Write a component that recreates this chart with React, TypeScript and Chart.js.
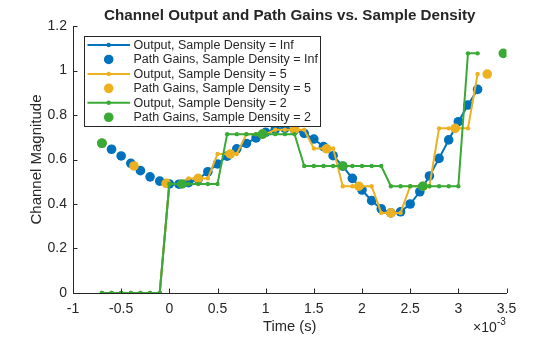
import React, { useEffect, useRef } from 'react';
import { Chart, registerables } from 'chart.js';

Chart.register(...registerables);

// ---------- data (time in ms, i.e. x10^-3 s) ----------
const sampleTimes = [
  -0.7, -0.6, -0.5, -0.4, -0.3, -0.2, -0.1, 0.0, 0.1, 0.2,
  0.3, 0.4, 0.5, 0.6, 0.7, 0.8, 0.9, 1.0, 1.1, 1.2,
  1.3, 1.4, 1.5, 1.6, 1.7, 1.8, 1.9, 2.0, 2.1, 2.2,
  2.3, 2.4, 2.5, 2.6, 2.7, 2.8, 2.9, 3.0, 3.1, 3.2,
];

const outputInf = [
  0, 0, 0, 0, 0, 0, 0, 0.49, 0.489, 0.496,
  0.512, 0.545, 0.58, 0.615, 0.648, 0.672, 0.697, 0.722, 0.736, 0.74,
  0.733, 0.717, 0.692, 0.658, 0.617, 0.57, 0.515, 0.463, 0.415, 0.378,
  0.36, 0.365, 0.4, 0.455, 0.526, 0.605, 0.688, 0.77, 0.845, 0.915,
];

const gainsInf = [
  0.673, 0.646, 0.616, 0.583, 0.55, 0.522, 0.503, 0.49, 0.489, 0.496,
  0.512, 0.545, 0.58, 0.615, 0.648, 0.672, 0.697, 0.722, 0.736, 0.74,
  0.733, 0.717, 0.692, 0.658, 0.617, 0.57, 0.515, 0.463, 0.415, 0.378,
  0.36, 0.365, 0.4, 0.455, 0.526, 0.605, 0.688, 0.77, 0.845, 0.915,
];

const output5 = [
  0, 0, 0, 0, 0, 0, 0, 0.49, 0.49, 0.515,
  0.515, 0.515, 0.625, 0.625, 0.625, 0.714, 0.714, 0.714, 0.734, 0.734,
  0.734, 0.734, 0.65, 0.65, 0.65, 0.48, 0.48, 0.48, 0.48, 0.36,
  0.36, 0.36, 0.48, 0.48, 0.48, 0.74, 0.74, 0.74, 0.74, 0.984,
];

const gains5Times = [-0.7, -0.367, -0.033, 0.3, 0.633, 0.967, 1.3, 1.633, 1.967, 2.3, 2.633, 2.967, 3.3];
const gains5 = [0.673, 0.571, 0.493, 0.515, 0.625, 0.714, 0.734, 0.648, 0.48, 0.36, 0.48, 0.74, 0.984];

const output2 = [
  0, 0, 0, 0, 0, 0, 0, 0.49, 0.49, 0.49,
  0.49, 0.49, 0.49, 0.714, 0.714, 0.714, 0.714, 0.714, 0.714, 0.714,
  0.714, 0.571, 0.571, 0.571, 0.571, 0.571, 0.571, 0.571, 0.571, 0.571,
  0.48, 0.48, 0.48, 0.48, 0.48, 0.48, 0.48, 0.48, 1.077, 1.077,
];

const gains2Times = [-0.7, 0.133, 0.967, 1.8, 2.633, 3.467];
const gains2 = [0.673, 0.49, 0.714, 0.571, 0.48, 1.077];

const seriesNames = [
  'Output, Sample Density = Inf',
  'Path Gains, Sample Density = Inf',
  'Output, Sample Density = 5',
  'Path Gains, Sample Density = 5',
  'Output, Sample Density = 2',
  'Path Gains, Sample Density = 2',
];

const xTickValues = [-1, -0.5, 0, 0.5, 1, 1.5, 2, 2.5, 3, 3.5];
const xTickLabels = ['-1', '-0.5', '0', '0.5', '1', '1.5', '2', '2.5', '3', '3.5'];
const yTickValues = [0, 0.2, 0.4, 0.6, 0.8, 1, 1.2];
const yTickLabels = ['0', '0.2', '0.4', '0.6', '0.8', '1', '1.2'];

const titleText = 'Channel Output and Path Gains vs. Sample Density';
const xLabelText = 'Time (s)';
const yLabelText = 'Channel Magnitude';

// ---------- styles ----------
const BLUE = 'rgb(0,114,189)';
const YELLOW = 'rgb(237,177,32)';
const GREEN = 'rgb(57,170,53)';
const AXIS = '#262626';
const FONT = '"Liberation Sans", Arial, Helvetica, sans-serif';

const pts = (xs: number[], ys: number[]) => xs.map((x, i) => ({ x, y: ys[i] }));

const lineDs = (label: string, data: any[], color: string) => ({
  label,
  data,
  showLine: true,
  borderColor: color,
  backgroundColor: color,
  borderWidth: 2,
  pointRadius: 2.2,
  pointBorderWidth: 0,
  pointBackgroundColor: color,
  tension: 0,
});

const dotDs = (label: string, data: any[], color: string) => ({
  label,
  data,
  showLine: false,
  borderColor: color,
  backgroundColor: color,
  pointRadius: 4.8,
  pointBorderWidth: 0,
  pointBackgroundColor: color,
});

const overlayPlugin = {
  id: 'overlay',
  afterDraw(chart: any) {
    const ctx: CanvasRenderingContext2D = chart.ctx;
    const xs = chart.scales.x;
    const ys = chart.scales.y;
    const { left, right, top, bottom } = chart.chartArea;
    ctx.save();

    // inward tick marks
    ctx.strokeStyle = AXIS;
    ctx.lineWidth = 1;
    xTickValues.forEach((v) => {
      const px = Math.round(xs.getPixelForValue(v)) + 0.5;
      ctx.beginPath();
      ctx.moveTo(px, bottom);
      ctx.lineTo(px, bottom - 4.5);
      ctx.stroke();
    });
    yTickValues.forEach((v) => {
      const py = Math.round(ys.getPixelForValue(v)) + 0.5;
      ctx.beginPath();
      ctx.moveTo(left, py);
      ctx.lineTo(left + 4.5, py);
      ctx.stroke();
    });

    // title
    ctx.fillStyle = AXIS;
    ctx.font = `bold 15.2px ${FONT}`;
    ctx.textAlign = 'center';
    ctx.textBaseline = 'alphabetic';
    ctx.fillText(titleText, (left + right) / 2, 20);

    // x label
    ctx.font = `14.7px ${FONT}`;
    ctx.fillText(xLabelText, (left + right) / 2, 331);

    // exponent label
    ctx.textAlign = 'left';
    ctx.font = `14px ${FONT}`;
    ctx.fillText('\u00d710', 473, 331.5);
    ctx.font = `10px ${FONT}`;
    ctx.fillText('-3', 497, 325);

    // y label
    ctx.save();
    ctx.translate(40.5, (top + bottom) / 2);
    ctx.rotate(-Math.PI / 2);
    ctx.textAlign = 'center';
    ctx.font = `15px ${FONT}`;
    ctx.fillText(yLabelText, 0, 0);
    ctx.restore();

    // legend
    const lx = 84.5, ly = 36.5, lw = 236, lh = 90;
    ctx.fillStyle = '#ffffff';
    ctx.fillRect(lx, ly, lw, lh);
    ctx.strokeStyle = AXIS;
    ctx.lineWidth = 1;
    ctx.strokeRect(lx, ly, lw, lh);
    const colors = [BLUE, BLUE, YELLOW, YELLOW, GREEN, GREEN];
    ctx.font = `12.5px ${FONT}`;
    ctx.textBaseline = 'middle';
    ctx.textAlign = 'left';
    seriesNames.forEach((name, i) => {
      const cy = 45 + i * 14.45;
      const c = colors[i];
      if (i % 2 === 0) {
        ctx.strokeStyle = c;
        ctx.lineWidth = 2;
        ctx.beginPath();
        ctx.moveTo(87.5, cy);
        ctx.lineTo(130, cy);
        ctx.stroke();
        ctx.fillStyle = c;
        ctx.beginPath();
        ctx.arc(108.7, cy, 2.2, 0, Math.PI * 2);
        ctx.fill();
      } else {
        ctx.fillStyle = c;
        ctx.beginPath();
        ctx.arc(108.7, cy, 4.8, 0, Math.PI * 2);
        ctx.fill();
      }
      ctx.fillStyle = AXIS;
      ctx.fillText(name, 133.5, cy + 0.5);
    });

    ctx.restore();
  },
};

export default function App() {
  const canvasRef = useRef<HTMLCanvasElement | null>(null);

  useEffect(() => {
    if (!canvasRef.current) return;
    const datasets: any[] = [
      lineDs(seriesNames[0], pts(sampleTimes, outputInf), BLUE),
      dotDs(seriesNames[1], pts(sampleTimes, gainsInf), BLUE),
      lineDs(seriesNames[2], pts(sampleTimes, output5), YELLOW),
      dotDs(seriesNames[3], pts(gains5Times, gains5), YELLOW),
      lineDs(seriesNames[4], pts(sampleTimes, output2), GREEN),
      dotDs(seriesNames[5], pts(gains2Times, gains2), GREEN),
    ];
    datasets.forEach((d, i) => { d.order = datasets.length - i; });

    const chart = new Chart(canvasRef.current, {
      type: 'scatter',
      data: { datasets },
      plugins: [overlayPlugin],
      options: {
        responsive: false,
        animation: false,
        layout: { padding: { left: 0, right: 53.5, top: 26, bottom: 0 } },
        plugins: {
          legend: { display: false },
          title: { display: false },
          tooltip: { enabled: false },
        },
        scales: {
          x: {
            type: 'linear',
            min: -1,
            max: 3.5,
            afterFit: (s: any) => { s.height = 44; },
            afterBuildTicks: (s: any) => { s.ticks = xTickValues.map((v) => ({ value: v })); },
            ticks: {
              padding: 8,
              color: AXIS,
              font: { family: FONT, size: 14 },
              maxRotation: 0,
              autoSkip: false,
              callback: (_v: any, i: number) => xTickLabels[i],
            },
            grid: { drawOnChartArea: false, drawTicks: false },
            border: { display: true, color: AXIS, width: 1 },
          },
          y: {
            type: 'linear',
            min: 0,
            max: 1.2,
            afterFit: (s: any) => { s.width = 73; },
            afterBuildTicks: (s: any) => { s.ticks = yTickValues.map((v) => ({ value: v })); },
            ticks: {
              padding: 6,
              color: AXIS,
              font: { family: FONT, size: 14 },
              autoSkip: false,
              callback: (_v: any, i: number) => yTickLabels[i],
            },
            grid: { drawOnChartArea: false, drawTicks: false },
            border: { display: true, color: AXIS, width: 1 },
          },
        },
      } as any,
    });
    return () => chart.destroy();
  }, []);

  return (
    <div style={{ position: 'absolute', left: 0, top: 0, width: 560, height: 337, background: '#fff' }}>
      <canvas ref={canvasRef} width={560} height={337} style={{ width: 560, height: 337, display: 'block' }} />
    </div>
  );
}
